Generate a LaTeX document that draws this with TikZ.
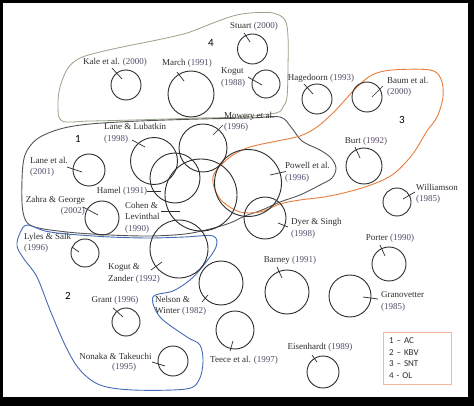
\documentclass[tikz,border=0pt]{standalone}
\usepackage{fontspec}
\setmainfont{Liberation Serif}
\newfontfamily\calib{Carlito}
\definecolor{ink}{RGB}{45,45,45}
\definecolor{yrc}{RGB}{85,75,105}
\definecolor{gfour}{RGB}{150,164,135}
\definecolor{gone}{RGB}{85,85,85}
\definecolor{gthree}{RGB}{232,125,58}
\definecolor{gtwo}{RGB}{68,108,180}
\definecolor{legbox}{RGB}{242,185,160}
\newcommand\yrs[1]{\textcolor{yrc}{(#1)}}
\tikzset{
  circ/.style={circle, draw=ink, line width=0.9pt, inner sep=0pt, minimum size=#1},
  lbl/.style={font=\fontsize{9}{11.5}\selectfont, text=ink, inner sep=0pt},
  grpnum/.style={font=\calib\fontsize{11}{13}\selectfont, text=black, inner sep=0pt},
  tick/.style={draw=ink, line width=0.7pt},
  outline/.style={line width=0.9pt},
}
\begin{document}
\begin{tikzpicture}[x=1pt,y=-1pt]
\useasboundingbox (0,0) rectangle (474,406);
\fill[black] (0,0) rectangle (474,406);
\fill[white] (3,3) rectangle (468,397);

% group outlines
\draw[outline, gfour, line width=0.8pt] plot[smooth cycle, tension=0.55] coordinates {
 (62,121) (58,106) (60,87) (68,68) (80,58) (100,52) (127,46) (157,40) (187,33) (213,23) (233,16) (250,13) (273,13) (285,20) (288,37) (288,67) (287,97) (283,107) (276,113) (240,117) (200,118) (133,120) (90,121)};
\draw[outline, gone] plot[smooth cycle, tension=0.55] coordinates {
 (37,139) (60,129) (90,124) (140,121) (200,119) (250,118) (280,117) (291,127) (302,141) (320,150) (331,158) (336,168) (332,178) (320,185) (300,195) (280,202) (262,210) (245,216) (230,223) (210,229) (185,234) (150,236) (110,235) (67,232) (32,226) (23,212) (22,180) (25,155)};
\draw[outline, gthree] plot[smooth cycle, tension=0.55] coordinates {
 (300,136) (317,127) (333,113) (345,100) (357,87) (372,75) (392,70) (430,70) (441,79) (443,97) (437,117) (427,131) (412,155) (392,175) (365,187) (330,196) (300,200) (280,204) (260,212) (240,212) (223,202) (215,190) (213,177) (220,166) (233,155) (250,147) (277,141)};
\draw[outline, gtwo] plot[smooth cycle, tension=0.55] coordinates {
 (213,236) (216,247) (203,266) (190,280) (173,291) (153,297) (160,317) (187,337) (200,345) (203,362) (199,380) (186,389) (133,390) (100,385) (80,370) (66,347) (50,310) (37,277) (24,259) (17,246) (20,233) (27,225) (45,231) (67,234) (110,237) (150,238) (185,237)};

% circles
\node[circ=30pt] (stuart) at (252.5,49) {};
\node[circ=28pt] (kogut) at (266,84) {};
\node[circ=30pt] (hagedoorn) at (317,99) {};
\node[circ=30pt] (baum) at (367,97) {};
\node[circ=30pt] (kale) at (126,85) {};
\node[circ=46pt] (march) at (191,94) {};
\node[circ=47pt] (lanelub) at (154,161) {};
\node[circ=48pt] (mowery) at (203,148) {};
\node[circ=50pt] (hamel) at (175,178) {};
\node[circ=72pt] (cohen) at (201,195) {};
\node[circ=67pt] (powell) at (248,183) {};
\node[circ=42pt] (dyer) at (265,218) {};
\node[circ=36pt] (burt) at (364,166) {};
\node[circ=28pt] (williamson) at (397,202) {};
\node[circ=34pt] (porter) at (389,264) {};
\node[circ=32pt] (laneetal) at (89,170) {};
\node[circ=34pt] (zahra) at (102,218) {};
\node[circ=28pt] (lyles) at (85,253) {};
\node[circ=58pt] (kogutz) at (179,249) {};
\node[circ=44pt] (nelson) at (221,283) {};
\node[circ=44pt] (barney) at (287,292) {};
\node[circ=42pt] (granovetter) at (350,296) {};
\node[circ=28pt] (grant) at (126,322) {};
\node[circ=38pt] (teece) at (235,330) {};
\node[circ=30pt] (nonaka) at (173,361) {};
\node[circ=32pt] (eisenhardt) at (323,372) {};

% labels
\node[lbl] (lstuart) at (254,26) {Stuart \yrs{2000}};
\node[lbl] (lkale) at (115,62) {Kale et al. \yrs{2000}};
\node[lbl] (lmarch) at (187,63) {March \yrs{1991}};
\node[lbl, align=left, anchor=west] (lkogut) at (221,77.5) {Kogut\\\yrs{1988}};
\node[lbl] (lhagedoorn) at (321,78) {Hagedoorn \yrs{1993}};
\node[lbl, align=left, anchor=west] (lbaum) at (387,87) {Baum et al.\\\yrs{2000}};
\node[lbl, align=left, anchor=west] (lmowery) at (224,122) {Mowery et al.\\\yrs{1996}};
\node[lbl, align=left, anchor=west] (llanelub) at (104,133.5) {Lane \& Lubatkin\\\yrs{1998}};
\node[lbl, align=left, anchor=west] (llaneetal) at (30,167) {Lane et al.\\\yrs{2001}};
\node[lbl] (lhamel) at (122,191.5) {Hamel \yrs{1991}};
\node[lbl, align=right, anchor=east] (lzahra) at (85,206) {Zahra \& George\\\yrs{2002}};
\node[lbl, align=left, anchor=west] (lcohen) at (125,217.5) {Cohen \&\\Levinthal\\\yrs{1990}};
\node[lbl, align=left, anchor=west] (lpowell) at (285,172.5) {Powell et al.\\\yrs{1996}};
\node[lbl] (lburt) at (366,141) {Burt \yrs{1992}};
\node[lbl, align=left, anchor=west] (lwilliamson) at (416,194) {Williamson\\\yrs{1985}};
\node[lbl, align=left, anchor=west] (ldyer) at (291,228.5) {Dyer \& Singh\\\yrs{1998}};
\node[lbl] (lporter) at (390,238) {Porter \yrs{1990}};
\node[lbl] (lbarney) at (290,260) {Barney \yrs{1991}};
\node[lbl, align=left, anchor=west] (llyles) at (24,243) {Lyles \& Salk\\\yrs{1996}};
\node[lbl, align=left, anchor=west] (lkogutz) at (108,273.5) {Kogut \&\\Zander \yrs{1992}};
\node[lbl] (lgrant) at (115,300.5) {Grant \yrs{1996}};
\node[lbl, align=left, anchor=west] (lnelson) at (155,306) {Nelson \&\\Winter \yrs{1982}};
\node[lbl, align=left, anchor=west] (lgranovetter) at (381,301.5) {Granovetter\\\yrs{1985}};
\node[lbl] (lnonakaA) at (115.5,356) {Nonaka \& Takeuchi};
\node[lbl] (lnonakaB) at (124,367.5) {\yrs{1995}};
\node[lbl] (lteece) at (244,360) {Teece et al. \yrs{1997}};
\node[lbl] (leisenhardt) at (320,347) {Eisenhardt \yrs{1989}};

% group numbers
\node[grpnum] (n4) at (211,43) {4};
\node[grpnum] (n3) at (402,120) {3};
\node[grpnum] (n1) at (78,139) {1};
\node[grpnum] (n2) at (68,296) {2};

% leader ticks
\draw[tick] ([shift={(-8.5,-16)}]stuart.center) -- ([shift={(-2.5,-7)}]stuart.center);
\draw[tick] ([shift={(-14,-17)}]kale.center) -- ([shift={(-4,-6)}]kale.center);
\draw[tick] ([shift={(-14,-22)}]march.center) -- ([shift={(-7,-13)}]march.center);
\draw[tick] ([shift={(-18,-7)}]kogut.center) -- ([shift={(-4,1)}]kogut.center);
\draw[tick] ([shift={(-13,-15)}]hagedoorn.center) -- ([shift={(-4,-5)}]hagedoorn.center);
\draw[tick] ([shift={(16,-11)}]baum.center) -- ([shift={(5,0)}]baum.center);
\draw[tick] ([shift={(20,-23)}]mowery.center) -- ([shift={(10,-13)}]mowery.center);
\draw[tick] ([shift={(-22,-21)}]lanelub.center) -- ([shift={(-9,-14)}]lanelub.center);
\draw[tick] ([shift={(-22,-3)}]laneetal.center) -- ([shift={(-7,2)}]laneetal.center);
\draw[tick] ([shift={(-28,13)}]hamel.center) -- ([shift={(-14,13)}]hamel.center);
\draw[tick] ([shift={(-40,16)}]cohen.center) -- ([shift={(-21,16)}]cohen.center);
\draw[tick] ([shift={(-19,-11)}]zahra.center) -- ([shift={(-4,-3)}]zahra.center);
\draw[tick] ([shift={(22,-8)}]powell.center) -- ([shift={(38,-11.5)}]powell.center);
\draw[tick] ([shift={(-9,-19)}]burt.center) -- ([shift={(-4,-8)}]burt.center);
\draw[tick] ([shift={(18,-10)}]williamson.center) -- ([shift={(6,-3)}]williamson.center);
\draw[tick] ([shift={(13,5)}]dyer.center) -- ([shift={(23,9)}]dyer.center);
\draw[tick] ([shift={(-9,-19)}]porter.center) -- ([shift={(-4,-8)}]porter.center);
\draw[tick] ([shift={(-10,-25)}]barney.center) -- ([shift={(-5,-14)}]barney.center);
\draw[tick] ([shift={(13,1)}]granovetter.center) -- ([shift={(28,3)}]granovetter.center);
\draw[tick] ([shift={(-13,-6)}]lyles.center) -- ([shift={(-6,-1)}]lyles.center);
\draw[tick] ([shift={(-28,21)}]kogutz.center) -- ([shift={(-17,13)}]kogutz.center);
\draw[tick] ([shift={(-19,19)}]nelson.center) -- ([shift={(-13,12)}]nelson.center);
\draw[tick] ([shift={(-13,-14)}]grant.center) -- ([shift={(-3,-5)}]grant.center);
\draw[tick] ([shift={(-21,1)}]nonaka.center) -- ([shift={(-8,5)}]nonaka.center);
\draw[tick] ([shift={(-2,11)}]teece.center) -- ([shift={(-5,21)}]teece.center);
\draw[tick] ([shift={(-11,-17)}]eisenhardt.center) -- ([shift={(-6,-10)}]eisenhardt.center);

% legend
\node[draw=legbox, line width=0.8pt, minimum width=68pt, minimum height=52pt, text width=56pt, align=left, inner sep=0pt, font=\calib\fontsize{9}{11.7}\selectfont, text=ink] (legend) at (417,358) {1 – AC\\2 – KBV\\3 – SNT\\4 - OL};
\end{tikzpicture}
\end{document}
